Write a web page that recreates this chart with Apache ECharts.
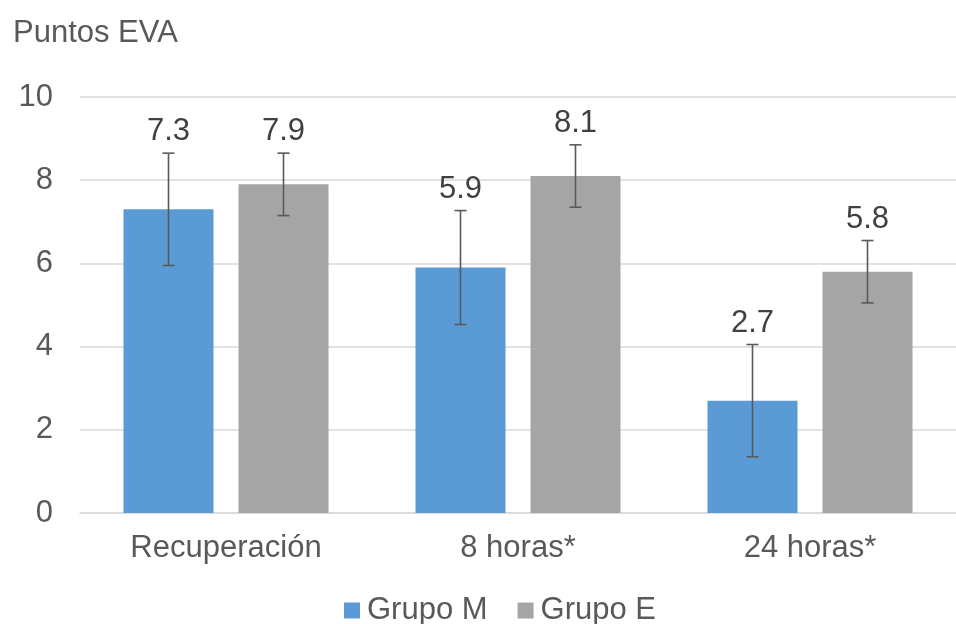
<!DOCTYPE html>
<html><head><meta charset="utf-8">
<script src="https://cdn.jsdelivr.net/npm/echarts@6/dist/echarts.min.js"></script>
<style>html,body{margin:0;padding:0;background:#fff}#c{width:956px;height:624px}</style>
</head><body><div id="c"></div>
<script>
var categories = ["Recuperación", "8 horas*", "24 horas*"];
var seriesNames = ["Grupo M", "Grupo E"];
var valuesM = [7.3, 5.9, 2.7];
var valuesE = [7.9, 8.1, 5.8];
var errM = [1.35, 1.37, 1.35];
var errE = [0.75, 0.75, 0.75];
var yTicks = [0, 2, 4, 6, 8, 10];

var FONT = '"Liberation Sans", Arial, sans-serif';
var TXT = '#595959';
var FS = 31;
var colors = ['#5B9BD5', '#A5A5A5'];
var BAR_W = 90, BAR_GAP = 25;

function errData(vals, errs) {
  return vals.map(function (v, i) { return [i, v, errs[i]]; });
}
function makeErr(offsetSign) {
  return function (params, api) {
    var idx = api.value(0), v = api.value(1), e = api.value(2);
    var c = api.coord([idx, v]);
    var x = c[0] + offsetSign * (BAR_W / 2 + BAR_GAP / 2);
    var top = api.coord([idx, v + e])[1];
    var bot = api.coord([idx, v - e])[1];
    var st = { stroke: '#595959', lineWidth: 1.6 };
    return {
      type: 'group',
      children: [
        { type: 'line', shape: { x1: x, y1: top, x2: x, y2: bot }, style: st },
        { type: 'line', shape: { x1: x - 6, y1: top, x2: x + 6, y2: top }, style: st },
        { type: 'line', shape: { x1: x - 6, y1: bot, x2: x + 6, y2: bot }, style: st },
        { type: 'text', x: x, y: top - 6, style: { text: String(v.toFixed(1)), fill: '#404040', font: FS + 'px ' + FONT, textAlign: 'center', textVerticalAlign: 'bottom' } }
      ]
    };
  };
}

var chart = echarts.init(document.getElementById('c'));
chart.setOption({
  animation: false,
  backgroundColor: '#fff',
  textStyle: { fontFamily: FONT },
  title: { text: 'Puntos EVA', left: 8, top: 13, textStyle: { fontFamily: FONT, fontSize: FS, fontWeight: 'normal', color: TXT } },
  legend: {
    data: seriesNames, top: 590, left: 339, itemWidth: 16, itemHeight: 16, itemGap: 30,
    icon: 'rect', textStyle: { fontFamily: FONT, fontSize: FS, color: TXT, padding: [0, 0, 0, 2] }
  },
  grid: { left: 80, right: -12, top: 97, bottom: 111, containLabel: false },
  xAxis: {
    type: 'category', data: categories,
    axisLine: { lineStyle: { color: '#D9D9D9', width: 1.5 } },
    axisTick: { show: false },
    axisLabel: { fontFamily: FONT, fontSize: FS, color: TXT, margin: 20 }
  },
  yAxis: {
    type: 'value', min: yTicks[0], max: yTicks[yTicks.length - 1], interval: yTicks[1] - yTicks[0],
    axisLine: { show: false }, axisTick: { show: false },
    splitLine: { lineStyle: { color: '#D9D9D9', width: 1.5 } },
    axisLabel: { fontFamily: FONT, fontSize: FS, color: TXT, margin: 27 }
  },
  series: [
    { name: seriesNames[0], type: 'bar', data: valuesM, barWidth: BAR_W, barGap: (BAR_GAP / BAR_W * 100) + '%', itemStyle: { color: colors[0] } },
    { name: seriesNames[1], type: 'bar', data: valuesE, barWidth: BAR_W, itemStyle: { color: colors[1] } },
    { type: 'custom', renderItem: makeErr(-1), data: errData(valuesM, errM), encode: { x: 0, y: 1 }, z: 5 },
    { type: 'custom', renderItem: makeErr(1), data: errData(valuesE, errE), encode: { x: 0, y: 1 }, z: 5 }
  ]
});
</script>
</body></html>
